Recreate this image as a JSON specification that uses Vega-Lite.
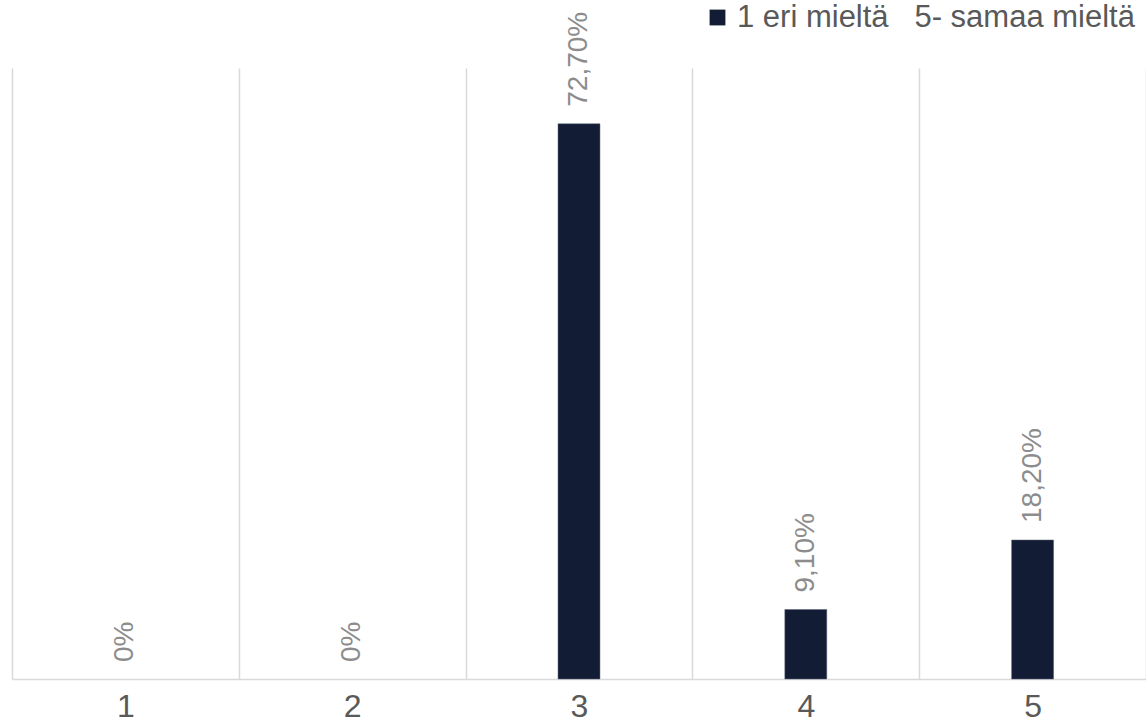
{
  "$schema": "https://vega.github.io/schema/vega-lite/v6.json",
  "width": 1134,
  "height": 611,
  "autosize": {"type": "none"},
  "padding": {"left": 12, "top": 68, "right": 0, "bottom": 47},
  "background": "white",
  "config": {
    "view": {"stroke": null},
    "font": "Liberation Sans"
  },
  "data": {
    "values": [
      {"cat": "1", "value": 0.0, "label": "0%", "series": "1 eri mieltä\u00a0\u00a0\u00a05- samaa mieltä"},
      {"cat": "2", "value": 0.0, "label": "0%", "series": "1 eri mieltä\u00a0\u00a0\u00a05- samaa mieltä"},
      {"cat": "3", "value": 0.727, "label": "72,70%", "series": "1 eri mieltä\u00a0\u00a0\u00a05- samaa mieltä"},
      {"cat": "4", "value": 0.091, "label": "9,10%", "series": "1 eri mieltä\u00a0\u00a0\u00a05- samaa mieltä"},
      {"cat": "5", "value": 0.182, "label": "18,20%", "series": "1 eri mieltä\u00a0\u00a0\u00a05- samaa mieltä"}
    ]
  },
  "encoding": {
    "x": {
      "field": "cat",
      "type": "ordinal",
      "scale": {"paddingInner": 0, "paddingOuter": 0},
      "axis": {
        "title": null,
        "labelAngle": 0,
        "labelFontSize": 32,
        "labelColor": "#595959",
        "labelPadding": 12,
        "ticks": false,
        "domainColor": "#d9d9d9",
        "domainWidth": 1.5,
        "grid": true,
        "gridColor": "#d9d9d9",
        "gridWidth": 1.5,
        "tickBand": "extent"
      }
    },
    "y": {
      "field": "value",
      "type": "quantitative",
      "scale": {"domain": [0, 0.8], "nice": false},
      "axis": null
    }
  },
  "layer": [
    {
      "transform": [{"filter": "datum.value > 0"}],
      "mark": {"type": "bar", "width": {"band": 0.185}, "stroke": "#5a6278", "strokeWidth": 0.5},
      "encoding": {
        "color": {
          "field": "series",
          "type": "nominal",
          "scale": {"range": ["#131c35"]},
          "legend": {
            "title": null,
            "orient": "none",
            "legendX": 690,
            "legendY": -66,
            "symbolType": "square",
            "symbolSize": 250,
            "symbolStrokeWidth": 0,
            "labelFontSize": 31,
            "labelColor": "#595959",
            "labelOffset": 4,
            "labelLimit": 600
          }
        }
      }
    },
    {
      "mark": {"type": "text", "angle": -90, "align": "left", "baseline": "middle", "dx": 17, "fontSize": 28, "color": "#8c8c8c"},
      "encoding": {
        "text": {"field": "label", "type": "nominal"}
      }
    }
  ]
}
